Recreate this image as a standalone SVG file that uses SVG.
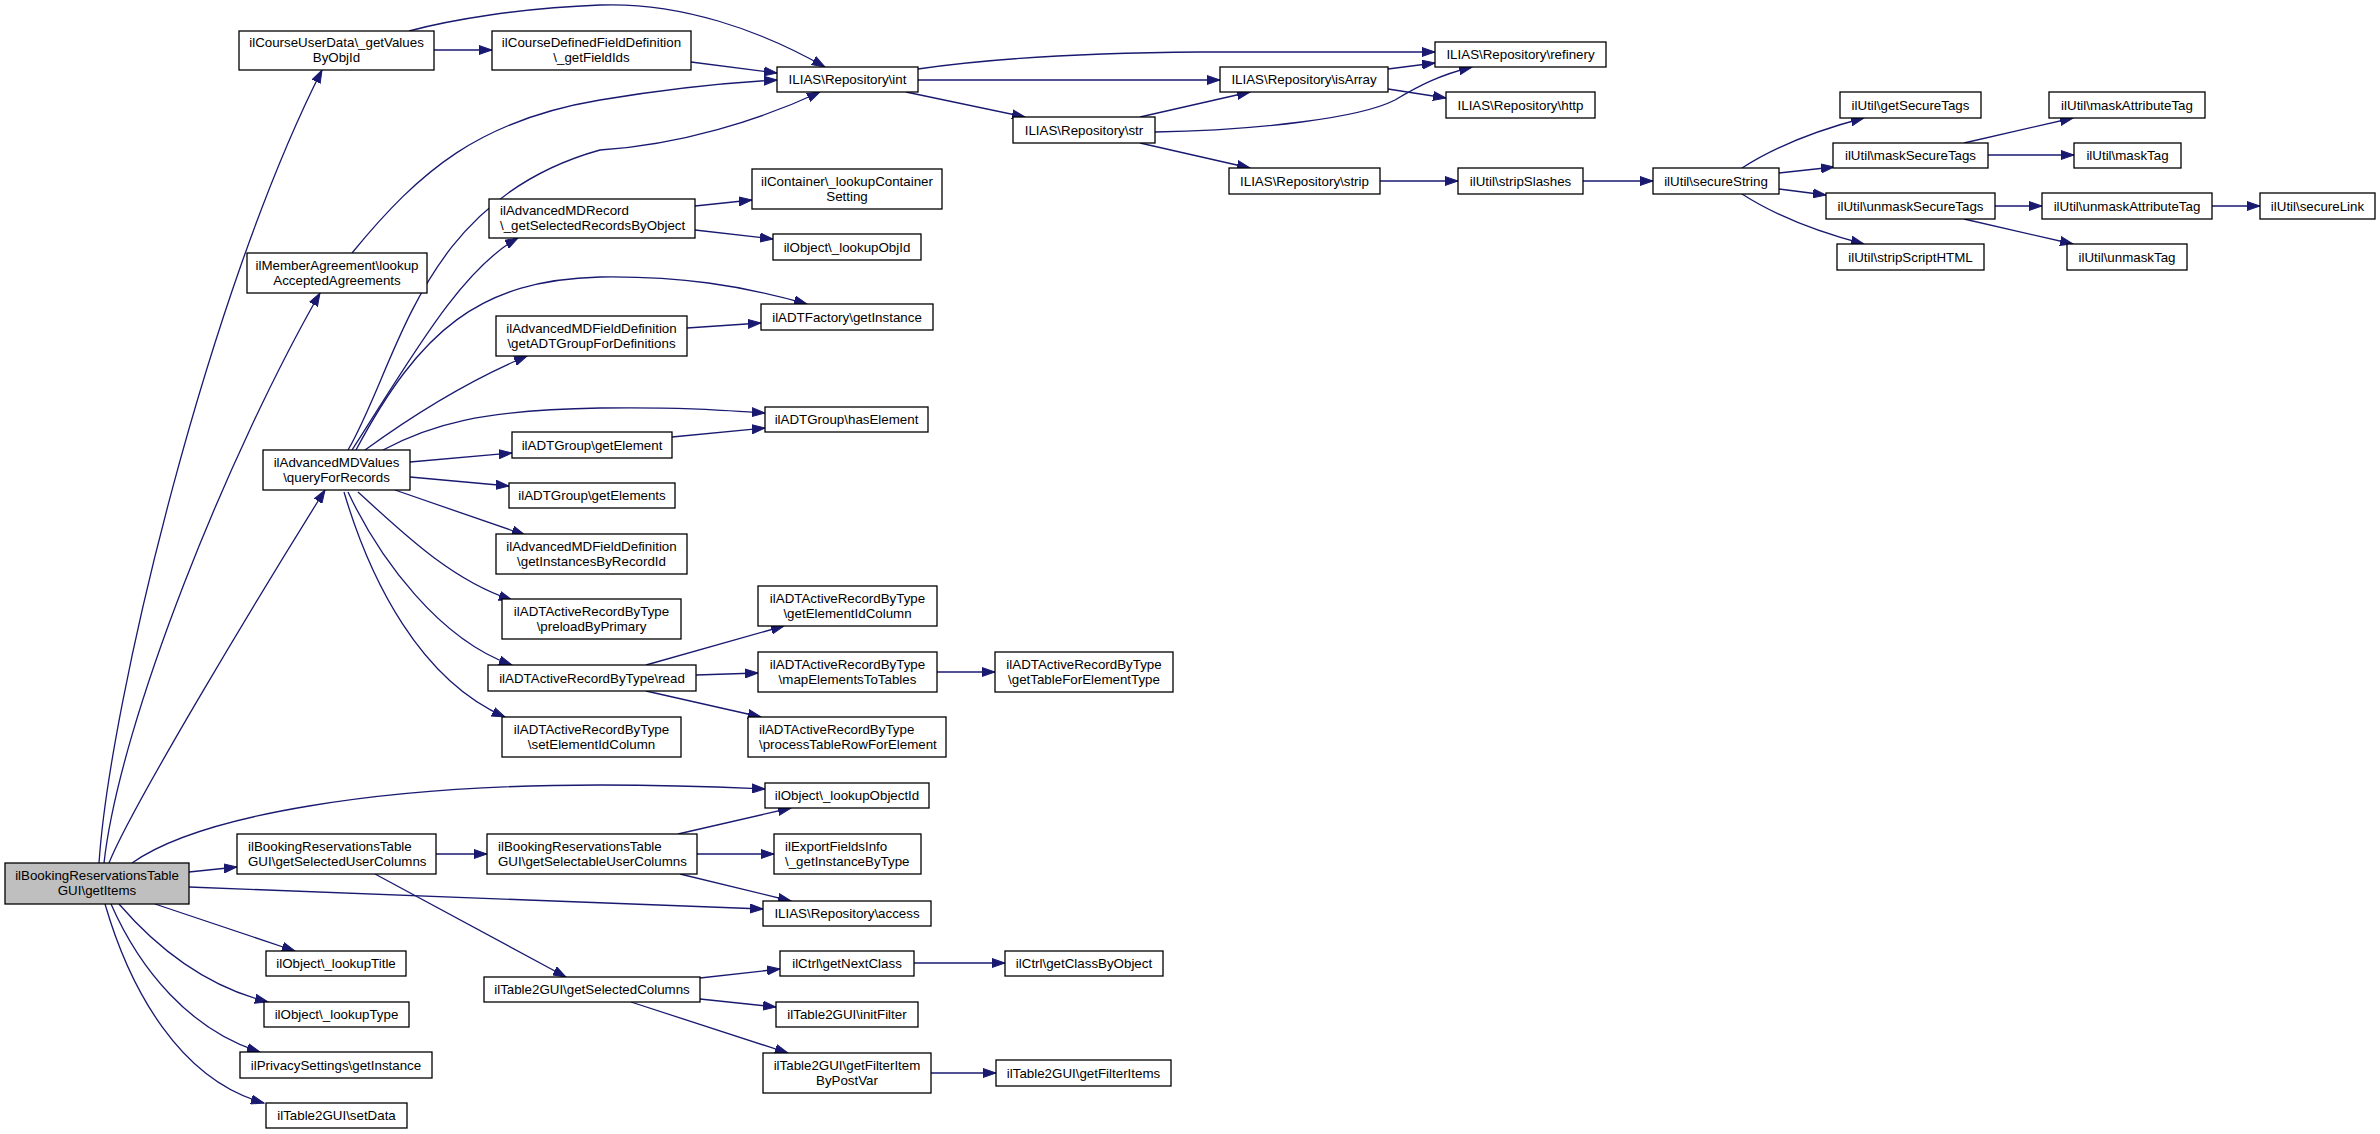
<svg xmlns="http://www.w3.org/2000/svg" width="2380" height="1134" viewBox="0 0 2380 1134">
<style>
.n rect{fill:#fff;stroke:#000;stroke-width:1.3}
.n.root rect{fill:#bfbfbf}
.n text{font-family:"Liberation Sans",Arial,Helvetica,sans-serif;font-size:13.33px;fill:#000}
.c{text-anchor:middle}
.e path{fill:none;stroke:#191970;stroke-width:1.3;marker-end:url(#a)}
</style>
<defs>
<marker id="a" markerWidth="14" markerHeight="10" refX="13" refY="5" orient="auto" markerUnits="userSpaceOnUse"><path d="M0,0.5 L13,5 L0,9.5 z" fill="#191970" stroke="#191970" stroke-width="1"/></marker>
</defs>
<rect width="2380" height="1134" fill="#fff"/>
<g id="edges" class="e">
<path d="M99,863 C110,700 210,290 322,70"/>
<path d="M104,863 C120,720 230,450 320,293"/>
<path d="M109,863 C130,810 250,610 325,490"/>
<path d="M132,863 C200,815 380,785 600,785 C680,785 720,787 765,789"/>
<path d="M189,872 L237,867"/>
<path d="M189,887 C400,895 600,903 763,909"/>
<path d="M155,904 L295,951"/>
<path d="M119,904 C150,940 200,985 268,1002"/>
<path d="M111,904 C140,970 190,1030 260,1052"/>
<path d="M105,904 C130,990 180,1080 264,1103"/>
<path d="M348,450 C400,360 420,200 600,150 C680,145 760,120 820,92"/>
<path d="M352,450 C410,360 460,270 518,238"/>
<path d="M356,450 C420,330 480,280 600,277 C680,276 740,285 807,304"/>
<path d="M365,450 C420,410 470,380 527,356"/>
<path d="M383,450 C430,425 480,410 600,408 C680,407 720,410 765,413"/>
<path d="M410,462 L512,453"/>
<path d="M410,477 L509,486"/>
<path d="M395,490 L525,535"/>
<path d="M358,492 C400,530 450,580 512,600"/>
<path d="M348,492 C380,560 440,640 512,665"/>
<path d="M344,492 C370,580 420,680 505,717"/>
<path d="M434,50 L492,50"/>
<path d="M409,31 C450,20 520,8 600,5 C680,2 760,30 825,67"/>
<path d="M691,62 L777,73"/>
<path d="M352,253 C420,170 480,120 600,100 C660,90 720,83 777,80"/>
<path d="M918,69 C980,60 1060,53 1200,52 L1435,52"/>
<path d="M918,80 L1220,80"/>
<path d="M906,92 L1025,117"/>
<path d="M1140,117 L1250,92"/>
<path d="M1155,132 C1260,130 1360,118 1395,100 C1420,85 1440,75 1472,67"/>
<path d="M1140,143 L1250,168"/>
<path d="M1388,69 L1435,63"/>
<path d="M1388,89 L1446,98"/>
<path d="M1380,181 L1458,181"/>
<path d="M1583,181 L1653,181"/>
<path d="M1742,168 C1770,150 1810,132 1864,118"/>
<path d="M1779,173 L1834,167"/>
<path d="M1779,189 L1826,195"/>
<path d="M1742,194 C1770,212 1810,230 1864,244"/>
<path d="M1964,143 L2073,118"/>
<path d="M1988,155 L2074,155"/>
<path d="M1995,206 L2042,206"/>
<path d="M1964,219 L2073,244"/>
<path d="M2212,206 L2260,206"/>
<path d="M695,206 L752,200"/>
<path d="M695,230 L773,239"/>
<path d="M687,328 L761,323"/>
<path d="M672,437 L765,428"/>
<path d="M646,665 L784,626"/>
<path d="M696,675 L758,673"/>
<path d="M646,691 L761,717"/>
<path d="M937,672 L995,672"/>
<path d="M436,854 L487,854"/>
<path d="M375,874 L566,977"/>
<path d="M678,834 L791,808"/>
<path d="M697,854 L774,854"/>
<path d="M680,874 L791,901"/>
<path d="M700,978 L780,969"/>
<path d="M700,999 L776,1007"/>
<path d="M631,1002 L788,1053"/>
<path d="M914,963 L1005,963"/>
<path d="M931,1073 L996,1073"/>
</g>
<g id="n_getItems" class="n root"><rect x="5" y="863" width="184" height="41"/><text class="c" x="97" y="880">ilBookingReservationsTable</text><text class="c" x="97" y="895">GUI\getItems</text></g>
<g id="n_courseUserData" class="n"><rect x="239" y="31" width="195" height="39"/><text class="c" x="336.5" y="47">ilCourseUserData\_getValues</text><text class="c" x="336.5" y="62">ByObjId</text></g>
<g id="n_courseDefined" class="n"><rect x="492" y="31" width="199" height="39"/><text class="c" x="591.5" y="47">ilCourseDefinedFieldDefinition</text><text class="c" x="591.5" y="62">\_getFieldIds</text></g>
<g id="n_int" class="n"><rect x="777" y="67" width="141" height="25"/><text class="c" x="847.5" y="84">ILIAS\Repository\int</text></g>
<g id="n_refinery" class="n"><rect x="1435" y="42" width="171" height="25"/><text class="c" x="1520.5" y="59">ILIAS\Repository\refinery</text></g>
<g id="n_isArray" class="n"><rect x="1220" y="67" width="168" height="25"/><text class="c" x="1304" y="84">ILIAS\Repository\isArray</text></g>
<g id="n_http" class="n"><rect x="1446" y="92" width="149" height="26"/><text class="c" x="1520.5" y="109.5">ILIAS\Repository\http</text></g>
<g id="n_str" class="n"><rect x="1013" y="117" width="142" height="26"/><text class="c" x="1084" y="134.5">ILIAS\Repository\str</text></g>
<g id="n_strip" class="n"><rect x="1229" y="168" width="151" height="26"/><text class="c" x="1304.5" y="185.5">ILIAS\Repository\strip</text></g>
<g id="n_stripSlashes" class="n"><rect x="1458" y="168" width="125" height="26"/><text class="c" x="1520.5" y="185.5">ilUtil\stripSlashes</text></g>
<g id="n_secureString" class="n"><rect x="1653" y="168" width="126" height="26"/><text class="c" x="1716" y="185.5">ilUtil\secureString</text></g>
<g id="n_getSecureTags" class="n"><rect x="1840" y="92" width="141" height="26"/><text class="c" x="1910.5" y="109.5">ilUtil\getSecureTags</text></g>
<g id="n_maskSecureTags" class="n"><rect x="1833" y="143" width="155" height="25"/><text class="c" x="1910.5" y="160">ilUtil\maskSecureTags</text></g>
<g id="n_unmaskSecureTags" class="n"><rect x="1826" y="193" width="169" height="26"/><text class="c" x="1910.5" y="210.5">ilUtil\unmaskSecureTags</text></g>
<g id="n_stripScriptHTML" class="n"><rect x="1837" y="244" width="147" height="26"/><text class="c" x="1910.5" y="261.5">ilUtil\stripScriptHTML</text></g>
<g id="n_maskAttributeTag" class="n"><rect x="2049" y="92" width="156" height="26"/><text class="c" x="2127" y="109.5">ilUtil\maskAttributeTag</text></g>
<g id="n_maskTag" class="n"><rect x="2074" y="143" width="107" height="25"/><text class="c" x="2127.5" y="160">ilUtil\maskTag</text></g>
<g id="n_unmaskAttributeTag" class="n"><rect x="2042" y="193" width="170" height="26"/><text class="c" x="2127" y="210.5">ilUtil\unmaskAttributeTag</text></g>
<g id="n_unmaskTag" class="n"><rect x="2067" y="244" width="120" height="26"/><text class="c" x="2127" y="261.5">ilUtil\unmaskTag</text></g>
<g id="n_secureLink" class="n"><rect x="2260" y="193" width="115" height="26"/><text class="c" x="2317.5" y="210.5">ilUtil\secureLink</text></g>
<g id="n_memberAgreement" class="n"><rect x="247" y="253" width="180" height="40"/><text class="c" x="337" y="269.5">ilMemberAgreement\lookup</text><text class="c" x="337" y="284.5">AcceptedAgreements</text></g>
<g id="n_queryForRecords" class="n"><rect x="263" y="450" width="147" height="40"/><text class="c" x="336.5" y="466.5">ilAdvancedMDValues</text><text class="c" x="336.5" y="481.5">\queryForRecords</text></g>
<g id="n_mdRecord" class="n"><rect x="489" y="199" width="206" height="39"/><text x="500" y="215">ilAdvancedMDRecord</text><text x="500" y="230">\_getSelectedRecordsByObject</text></g>
<g id="n_container" class="n"><rect x="752" y="169" width="190" height="40"/><text class="c" x="847" y="185.5">ilContainer\_lookupContainer</text><text class="c" x="847" y="200.5">Setting</text></g>
<g id="n_lookupObjId" class="n"><rect x="773" y="234" width="148" height="26"/><text class="c" x="847" y="251.5">ilObject\_lookupObjId</text></g>
<g id="n_getADTGroup" class="n"><rect x="496" y="316" width="191" height="40"/><text class="c" x="591.5" y="332.5">ilAdvancedMDFieldDefinition</text><text class="c" x="591.5" y="347.5">\getADTGroupForDefinitions</text></g>
<g id="n_adtFactory" class="n"><rect x="761" y="304" width="172" height="26"/><text class="c" x="847" y="321.5">ilADTFactory\getInstance</text></g>
<g id="n_hasElement" class="n"><rect x="765" y="407" width="163" height="25"/><text class="c" x="846.5" y="424">ilADTGroup\hasElement</text></g>
<g id="n_getElement" class="n"><rect x="512" y="432" width="160" height="26"/><text class="c" x="592" y="449.5">ilADTGroup\getElement</text></g>
<g id="n_getElements" class="n"><rect x="509" y="483" width="166" height="25"/><text class="c" x="592" y="500">ilADTGroup\getElements</text></g>
<g id="n_getInstancesByRecordId" class="n"><rect x="496" y="534" width="191" height="40"/><text class="c" x="591.5" y="550.5">ilAdvancedMDFieldDefinition</text><text class="c" x="591.5" y="565.5">\getInstancesByRecordId</text></g>
<g id="n_preloadByPrimary" class="n"><rect x="502" y="599" width="179" height="40"/><text class="c" x="591.5" y="615.5">ilADTActiveRecordByType</text><text class="c" x="591.5" y="630.5">\preloadByPrimary</text></g>
<g id="n_read" class="n"><rect x="488" y="665" width="208" height="26"/><text class="c" x="592" y="682.5">ilADTActiveRecordByType\read</text></g>
<g id="n_setElementIdColumn" class="n"><rect x="502" y="717" width="179" height="40"/><text class="c" x="591.5" y="733.5">ilADTActiveRecordByType</text><text class="c" x="591.5" y="748.5">\setElementIdColumn</text></g>
<g id="n_getElementIdColumn" class="n"><rect x="758" y="586" width="179" height="40"/><text class="c" x="847.5" y="602.5">ilADTActiveRecordByType</text><text class="c" x="847.5" y="617.5">\getElementIdColumn</text></g>
<g id="n_mapElementsToTables" class="n"><rect x="758" y="652" width="179" height="40"/><text class="c" x="847.5" y="668.5">ilADTActiveRecordByType</text><text class="c" x="847.5" y="683.5">\mapElementsToTables</text></g>
<g id="n_getTableForElementType" class="n"><rect x="995" y="652" width="178" height="40"/><text class="c" x="1084" y="668.5">ilADTActiveRecordByType</text><text class="c" x="1084" y="683.5">\getTableForElementType</text></g>
<g id="n_processTableRow" class="n"><rect x="748" y="717" width="198" height="40"/><text x="759" y="733.5">ilADTActiveRecordByType</text><text x="759" y="748.5">\processTableRowForElement</text></g>
<g id="n_lookupObjectId" class="n"><rect x="765" y="783" width="164" height="25"/><text class="c" x="847" y="800">ilObject\_lookupObjectId</text></g>
<g id="n_getSelectedUserColumns" class="n"><rect x="237" y="834" width="199" height="40"/><text x="248" y="850.5">ilBookingReservationsTable</text><text x="248" y="865.5">GUI\getSelectedUserColumns</text></g>
<g id="n_getSelectableUserColumns" class="n"><rect x="487" y="834" width="210" height="40"/><text x="498" y="850.5">ilBookingReservationsTable</text><text x="498" y="865.5">GUI\getSelectableUserColumns</text></g>
<g id="n_exportFieldsInfo" class="n"><rect x="774" y="834" width="147" height="40"/><text x="785" y="850.5">ilExportFieldsInfo</text><text x="785" y="865.5">\_getInstanceByType</text></g>
<g id="n_access" class="n"><rect x="763" y="901" width="168" height="25"/><text class="c" x="847" y="918">ILIAS\Repository\access</text></g>
<g id="n_lookupTitle" class="n"><rect x="266" y="951" width="140" height="25"/><text class="c" x="336" y="968">ilObject\_lookupTitle</text></g>
<g id="n_lookupType" class="n"><rect x="264" y="1002" width="145" height="25"/><text class="c" x="336.5" y="1019">ilObject\_lookupType</text></g>
<g id="n_privacySettings" class="n"><rect x="240" y="1052" width="192" height="26"/><text class="c" x="336" y="1069.5">ilPrivacySettings\getInstance</text></g>
<g id="n_setData" class="n"><rect x="266" y="1103" width="141" height="25"/><text class="c" x="336.5" y="1120">ilTable2GUI\setData</text></g>
<g id="n_getSelectedColumns" class="n"><rect x="484" y="977" width="216" height="25"/><text class="c" x="592" y="994">ilTable2GUI\getSelectedColumns</text></g>
<g id="n_getNextClass" class="n"><rect x="780" y="951" width="134" height="25"/><text class="c" x="847" y="968">ilCtrl\getNextClass</text></g>
<g id="n_getClassByObject" class="n"><rect x="1005" y="951" width="158" height="25"/><text class="c" x="1084" y="968">ilCtrl\getClassByObject</text></g>
<g id="n_initFilter" class="n"><rect x="776" y="1002" width="142" height="25"/><text class="c" x="847" y="1019">ilTable2GUI\initFilter</text></g>
<g id="n_getFilterItem" class="n"><rect x="763" y="1053" width="168" height="40"/><text class="c" x="847" y="1069.5">ilTable2GUI\getFilterItem</text><text class="c" x="847" y="1084.5">ByPostVar</text></g>
<g id="n_getFilterItems" class="n"><rect x="996" y="1060" width="175" height="26"/><text class="c" x="1083.5" y="1077.5">ilTable2GUI\getFilterItems</text></g>
</svg>
